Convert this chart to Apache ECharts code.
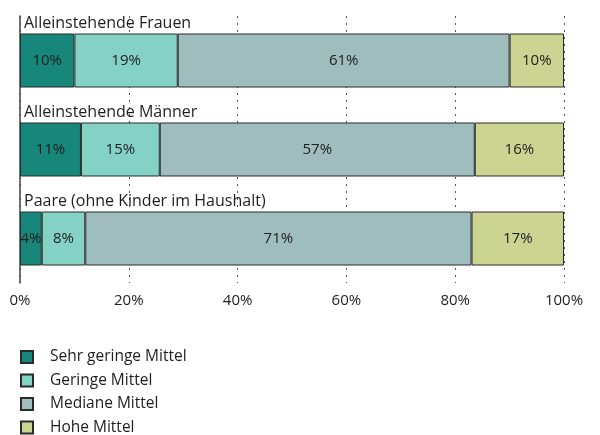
<!DOCTYPE html>
<html>
<head>
<meta charset="utf-8">
<script src="https://cdn.jsdelivr.net/npm/echarts@6/dist/echarts.min.js"></script>
<style>
html, body { margin: 0; padding: 0; background: #fff; }
#chart { width: 600px; height: 435px; }
</style>
</head>
<body>
<div id="chart"></div>
<script>
var categories = ["Alleinstehende Frauen", "Alleinstehende Männer", "Paare (ohne Kinder im Haushalt)"];
var seriesNames = ["Sehr geringe Mittel", "Geringe Mittel", "Mediane Mittel", "Hohe Mittel"];
var colors = ["#17877b", "#84d1c5", "#9ebdbc", "#ccd492"];
// bar lengths (per category: Frauen, Männer, Paare)
var sehrGering = [10, 11.2, 4];
var gering = [19, 14.5, 8];
var median = [61, 57.9, 71];
var hoch = [10, 16.4, 17];
// printed labels
var sehrGeringLabel = [10, 11, 4];
var geringLabel = [19, 15, 8];
var medianLabel = [61, 57, 71];
var hochLabel = [10, 16, 17];
var xTicks = [0, 20, 40, 60, 80, 100];

var values = [sehrGering, gering, median, hoch];
var labels = [sehrGeringLabel, geringLabel, medianLabel, hochLabel];
var font = "'Open Sans', Lato, sans-serif";

function buildSeries() {
    var series = [];
    for (var i = 0; i < seriesNames.length; i++) {
        (function (idx) {
            series.push({
                name: seriesNames[idx],
                type: "bar",
                stack: "total",
                barWidth: 54,
                data: values[idx],
                itemStyle: {color: colors[idx], borderColor: "#2b2b2b", borderWidth: 1},
                label: {
                    show: true,
                    position: "inside",
                    color: "#1e1e1e",
                    fontFamily: font,
                    fontSize: 15,
                    formatter: function (p) {
                        return labels[idx][p.dataIndex] + "%";
                    }
                },
                emphasis: {disabled: true}
            });
        })(i);
    }
    return series;
}

var chart = echarts.init(document.getElementById("chart"));
chart.setOption({
    animation: false,
    color: colors,
    grid: {left: 20, right: 36, top: 16, bottom: 152, containLabel: false},
    legend: {
        orient: "vertical",
        left: 20,
        top: 349,
        height: 100,
        padding: 0,
        itemWidth: 12,
        itemHeight: 12,
        itemGap: 7.5,
        icon: "rect",
        textStyle: {fontFamily: font, fontSize: 15.5, lineHeight: 16, color: "#1e1e1e", padding: [0, 0, 0, 12]},
        data: seriesNames
    },
    xAxis: {
        type: "value",
        min: 0,
        max: 100,
        interval: 20,
        axisLine: {show: false},
        axisTick: {show: false},
        axisLabel: {
            margin: 10,
            fontFamily: font,
            fontSize: 15,
            color: "#1e1e1e",
            formatter: function (v) {
                return xTicks.indexOf(v) >= 0 ? v + "%" : "";
            }
        },
        splitLine: {show: true, lineStyle: {color: "#555", type: [2, 5], width: 1}}
    },
    yAxis: {
        type: "category",
        inverse: true,
        data: categories,
        axisLine: {show: true, lineStyle: {color: "#444", width: 1.5}},
        axisTick: {show: false},
        axisLabel: {
            inside: true,
            margin: 4,
            align: "left",
            verticalAlign: "bottom",
            padding: [0, 0, 29, 0],
            fontFamily: font,
            fontSize: 16,
            color: "#1e1e1e"
        }
    },
    series: buildSeries()
});
</script>
</body>
</html>
